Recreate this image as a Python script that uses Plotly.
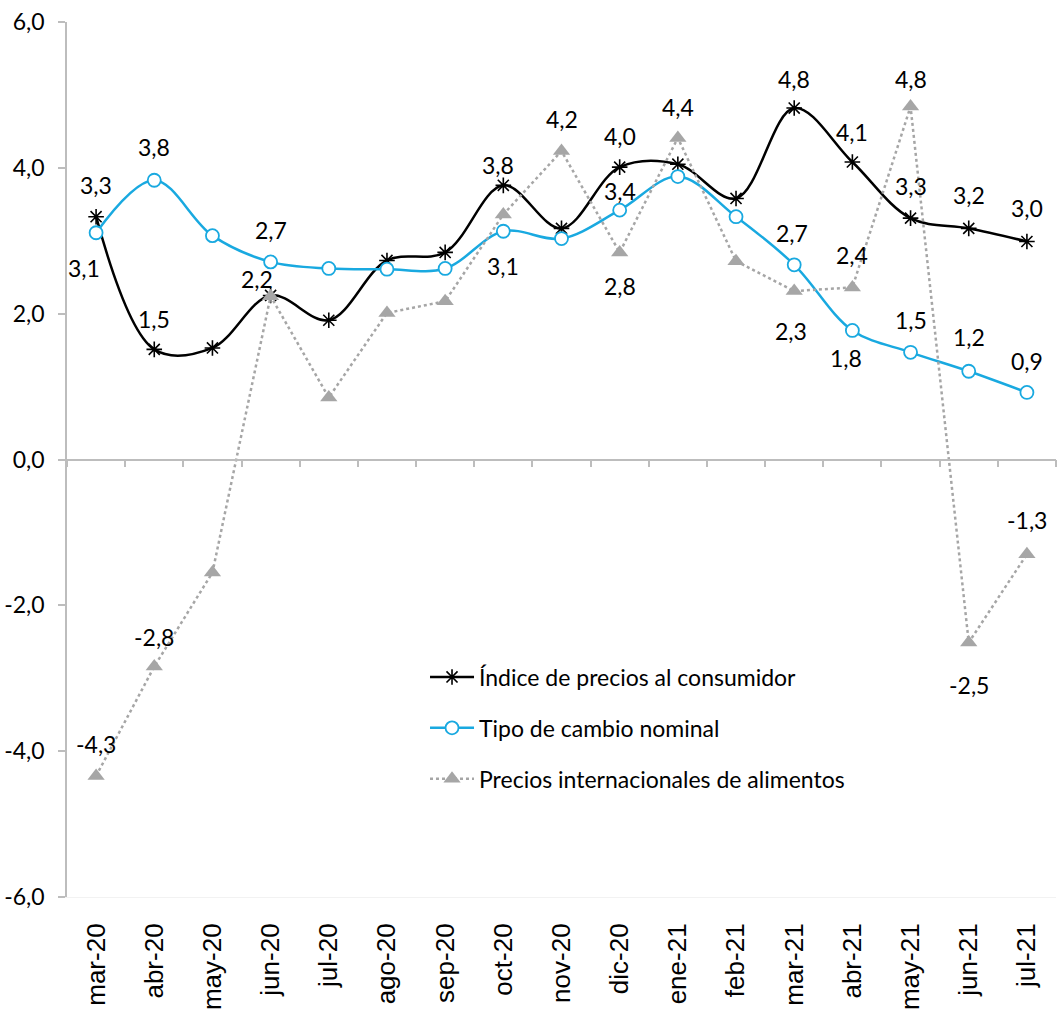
import plotly.graph_objects as go

months = ["mar-20", "abr-20", "may-20", "jun-20", "jul-20", "ago-20", "sep-20", "oct-20",
          "nov-20", "dic-20", "ene-21", "feb-21", "mar-21", "abr-21", "may-21", "jun-21", "jul-21"]

ipc = [3.33, 1.51, 1.53, 2.25, 1.91, 2.73, 2.84, 3.76, 3.17, 4.01, 4.05, 3.58, 4.82, 4.08, 3.31, 3.17, 2.99]
tcn = [3.11, 3.83, 3.07, 2.71, 2.62, 2.61, 2.62, 3.13, 3.03, 3.42, 3.88, 3.33, 2.67, 1.77, 1.47, 1.21, 0.92]
food = [-4.34, -2.84, -1.55, 2.24, 0.85, 2.01, 2.17, 3.36, 4.23, 2.84, 4.41, 2.72, 2.31, 2.36, 4.84, -2.51, -1.30]

names = ["Índice de precios al consumidor", "Tipo de cambio nominal",
         "Precios internacionales de alimentos"]

ytick_vals = [-6, -4, -2, 0, 2, 4, 6]
ytick_text = ["-6,0", "-4,0", "-2,0", "0,0", "2,0", "4,0", "6,0"]

# label placement (index, dx px, dy px)
ipc_labels = [(0, 0, 32), (1, 0, 30), (7, -5, 20), (9, 0, 31), (12, 0, 29),
              (13, 0, 30), (14, 0, 32), (15, 0, 33), (16, 0, 33)]
tcn_labels = [(0, -12, -35), (1, 0, 33), (3, 0, 32), (7, 0, -35), (9, 0, 19),
              (12, -2, 32), (13, -6, -28), (14, 0, 32), (15, 0, 34), (16, 0, 31)]
food_labels = [(0, 0, 32), (1, 0, 30), (3, -14, 17), (8, 0, 32), (9, 0, -34),
               (10, 0, 31), (12, -3, -40), (13, 0, 32), (14, 0, 28), (15, 0, -42), (16, 0, 34)]

FONT = "Lato"
BLACK = "#000000"
BLUE = "#19A9E0"
GRAY = "#A6A6A6"
AXIS = "#BDBDBD"

fig = go.Figure()

fig.add_trace(go.Scatter(
    x=months, y=ipc, name=names[0], mode="lines+markers",
    line=dict(color=BLACK, width=2.5, shape="spline", smoothing=1),
    marker=dict(symbol="asterisk-open", size=13, line=dict(color=BLACK, width=1.6), color=BLACK),
    legendgroup="a",
))
fig.add_trace(go.Scatter(
    x=months, y=tcn, name=names[1], mode="lines+markers",
    line=dict(color=BLUE, width=2.5, shape="spline", smoothing=1),
    marker=dict(symbol="circle", size=13, color="white", line=dict(color=BLUE, width=1.8)),
    legendgroup="b",
))
fig.add_trace(go.Scatter(
    x=months, y=food, name=names[2], mode="lines+markers",
    line=dict(color=GRAY, width=2.5, dash="dot"),
    marker=dict(symbol="triangle-up", size=15, color=GRAY),
    legendgroup="c",
))
# dummy trace for zero-line axis
fig.add_trace(go.Scatter(x=months, y=[0] * len(months), xaxis="x2", mode="none",
                         showlegend=False, hoverinfo="skip"))


def fmt(v):
    return f"{v:.1f}".replace(".", ",")


annotations = []
for series, labels in ((ipc, ipc_labels), (tcn, tcn_labels), (food, food_labels)):
    for i, dx, dy in labels:
        annotations.append(dict(
            x=months[i], y=series[i], xref="x", yref="y", text=fmt(series[i]),
            showarrow=False, xshift=dx, yshift=dy,
            font=dict(family=FONT, size=23, color="#000000"),
        ))

fig.update_layout(
    width=1057, height=1015,
    margin=dict(l=67, r=1, t=22, b=118, autoexpand=False),
    plot_bgcolor="white", paper_bgcolor="white",
    separators=",.",
    showlegend=True,
    legend=dict(
        x=0.362, y=0.276, xanchor="left", yanchor="top",
        font=dict(family=FONT, size=23, color="#000000"),
        bgcolor="rgba(0,0,0,0)", itemwidth=44,
        tracegroupgap=18, traceorder="grouped",
    ),
    annotations=annotations,
    xaxis=dict(
        type="category", range=[-0.5, 16.5], automargin=False,
        showgrid=False, zeroline=False,
        showline=True, linecolor="#F2F2F2", linewidth=1,
        ticks="", tickangle=-90,
        tickfont=dict(family="Liberation Sans", size=26, color="#000000"),
        ticklabelstandoff=15,
    ),
    xaxis2=dict(
        type="category", range=[-0.5, 16.5], overlaying="x",
        anchor="free", position=0.5, side="bottom", automargin=False,
        showgrid=False, zeroline=False,
        showline=True, linecolor=AXIS, linewidth=1.5,
        ticks="outside", ticklen=7, tickcolor=AXIS, tickwidth=1.5,
        tickson="boundaries", showticklabels=False,
    ),
    yaxis=dict(
        range=[-6, 6], tickvals=ytick_vals, ticktext=ytick_text, automargin=False,
        showgrid=False, zeroline=False,
        showline=True, linecolor=AXIS, linewidth=1.5,
        ticks="outside", ticklen=7, tickcolor=AXIS, tickwidth=1.5,
        tickfont=dict(family=FONT, size=23, color="#000000"),
        ticklabelstandoff=9,
    ),
)

fig.write_html(
    "out.html",
    config={"displayModeBar": False},
    post_script="document.body.style.margin='0';document.body.style.padding='0';",
)
